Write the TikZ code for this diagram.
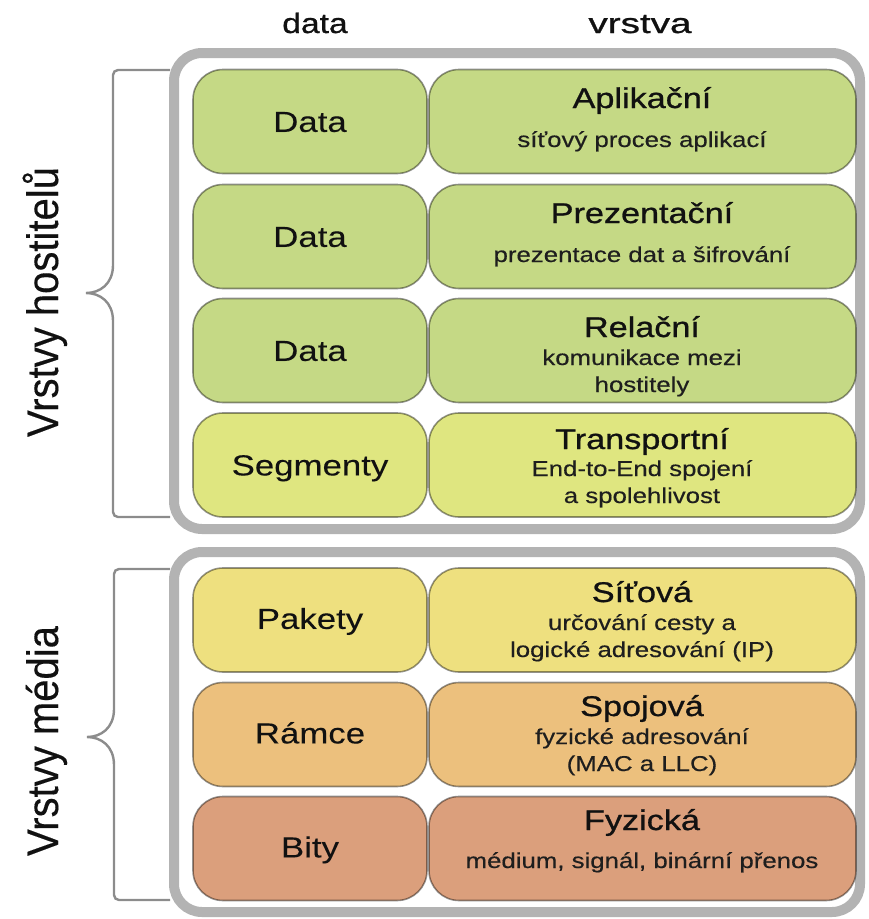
\documentclass[tikz,border=0pt]{standalone}
\usepackage{graphicx}
\usepackage{fontspec}
\setmainfont{Liberation Sans}
\newfontfamily\hfont[FakeStretch=1.2,FakeBold=0.4]{Liberation Sans}
\newfontfamily\tfont[FakeStretch=1.2,FakeBold=0.9]{Liberation Sans}
\newfontfamily\vfont[FakeStretch=0.91,FakeBold=0.3]{Liberation Sans}
\definecolor{cG}{HTML}{C5D985}
\definecolor{cY}{HTML}{DFE680}
\definecolor{cS}{HTML}{EEE07F}
\definecolor{cO}{HTML}{ECC07D}
\definecolor{cR}{HTML}{DB9F7C}
\definecolor{frame}{HTML}{B3B3B3}
\definecolor{bracec}{HTML}{8C8C8C}
\definecolor{txt}{HTML}{111111}
\definecolor{subt}{HTML}{1E1E1E}
\tikzset{
  outerbox/.style={draw=frame, line width=10pt, rounded corners=28pt},
  layerbox/.style={draw=black, draw opacity=0.42, line width=1.6pt, rounded corners=30pt,
     minimum height=104pt, inner sep=0pt, outer sep=0pt},
  databox/.style={layerbox, minimum width=234pt, text=txt,
     font=\tfont\fontsize{29}{34}\selectfont, text height=20.8pt, text depth=0pt},
  namebox/.style={layerbox, minimum width=427pt},
  ttl/.style={anchor=base, inner sep=0pt, text=txt, font=\tfont\fontsize{28.5}{33}\selectfont},
  sub/.style={anchor=base, inner sep=0pt, text=subt, font=\hfont\fontsize{21.5}{26}\selectfont},
  head/.style={anchor=base, inner sep=0pt, text=txt, font=\tfont\fontsize{28}{33}\selectfont},
  vlab/.style={anchor=base, inner sep=0pt, rotate=90, text=txt, font=\vfont\fontsize{44}{50}\selectfont},
  bracel/.style={draw=bracec, line width=2.4pt},
}
\begin{document}
\begin{tikzpicture}[x=1pt,y=-1pt]
\useasboundingbox (0,0) rectangle (869,919);
% outer frames
\draw[outerbox] (174,53) rectangle (860,529);
\draw[outerbox] (174,552) rectangle (860,912);
% headers
\node[head] (hdata) at (315,33) {data};
\node[head] (hvrstva) at (640,33) {\scalebox{1.15}[1]{vrstva}};
% left column
\node[databox, fill=cG] (d1) at (310,121.5) {Data};
\node[databox, fill=cG] (d2) at (310,236.5) {Data};
\node[databox, fill=cG] (d3) at (310,350.5) {Data};
\node[databox, fill=cY] (d4) at (310,465) {Segmenty};
\node[databox, fill=cS] (d5) at (310,620) {\raisebox{1.5pt}{Pakety}};
\node[databox, fill=cO] (d6) at (310,734.5) {\raisebox{1.5pt}{Rámce}};
\node[databox, fill=cR] (d7) at (310,848.5) {\raisebox{1.5pt}{Bity}};
% right column boxes
\node[namebox, fill=cG] (v1) at (642.5,121.5) {};
\node[namebox, fill=cG] (v2) at (642.5,236.5) {};
\node[namebox, fill=cG] (v3) at (642.5,350.5) {};
\node[namebox, fill=cY] (v4) at (642.5,465) {};
\node[namebox, fill=cS] (v5) at (642.5,620) {};
\node[namebox, fill=cO] (v6) at (642.5,734.5) {};
\node[namebox, fill=cR] (v7) at (642.5,848.5) {};
% right column texts
\node[ttl] (t1) at (642,108) {Aplikační};
\node[sub] (s1) at (642,147) {síťový proces aplikací};
\node[ttl] (t2) at (642,223) {Prezentační};
\node[sub] (s2) at (642,262) {prezentace dat a šifrování};
\node[ttl] (t3) at (642,337) {Relační};
\node[sub] (s3a) at (642,365) {komunikace mezi};
\node[sub] (s3b) at (642,392) {hostitely};
\node[ttl] (t4) at (642,449) {Transportní};
\node[sub] (s4a) at (642,476) {End-to-End spojení};
\node[sub] (s4b) at (642,503) {a spolehlivost};
\node[ttl] (t5) at (642,602) {Síťová};
\node[sub] (s5a) at (642,630) {určování cesty a};
\node[sub] (s5b) at (642,657) {logické adresování (IP)};
\node[ttl] (t6) at (642,716) {Spojová};
\node[sub] (s6a) at (642,744) {fyzické adresování};
\node[sub] (s6b) at (642,771) {(MAC a LLC)};
\node[ttl] (t7) at (642,830) {Fyzická};
\node[sub] (s7) at (642,868) {médium, signál, binární přenos};
% braces
\draw[bracel] (170,70) [rounded corners=5pt] -- (113,70) -- (113,110) [sharp corners] -- (113,265)
   .. controls (113,284) and (100,293) .. (86,293)
   .. controls (100,293) and (113,302) .. (113,321)
   [rounded corners=5pt] -- (113,517) -- (170,517);
\draw[bracel] (170,569) [rounded corners=5pt] -- (114,569) -- (114,610) [sharp corners] -- (114,709)
   .. controls (114,728) and (101,737) .. (87,737)
   .. controls (101,737) and (114,746) .. (114,765)
   [rounded corners=5pt] -- (114,900) -- (170,900);
% vertical labels
\node[vlab] (lh) at (58,302) {Vrstvy hostitelů};
\node[vlab] (lm) at (58,741) {Vrstvy média};
\end{tikzpicture}
\end{document}
